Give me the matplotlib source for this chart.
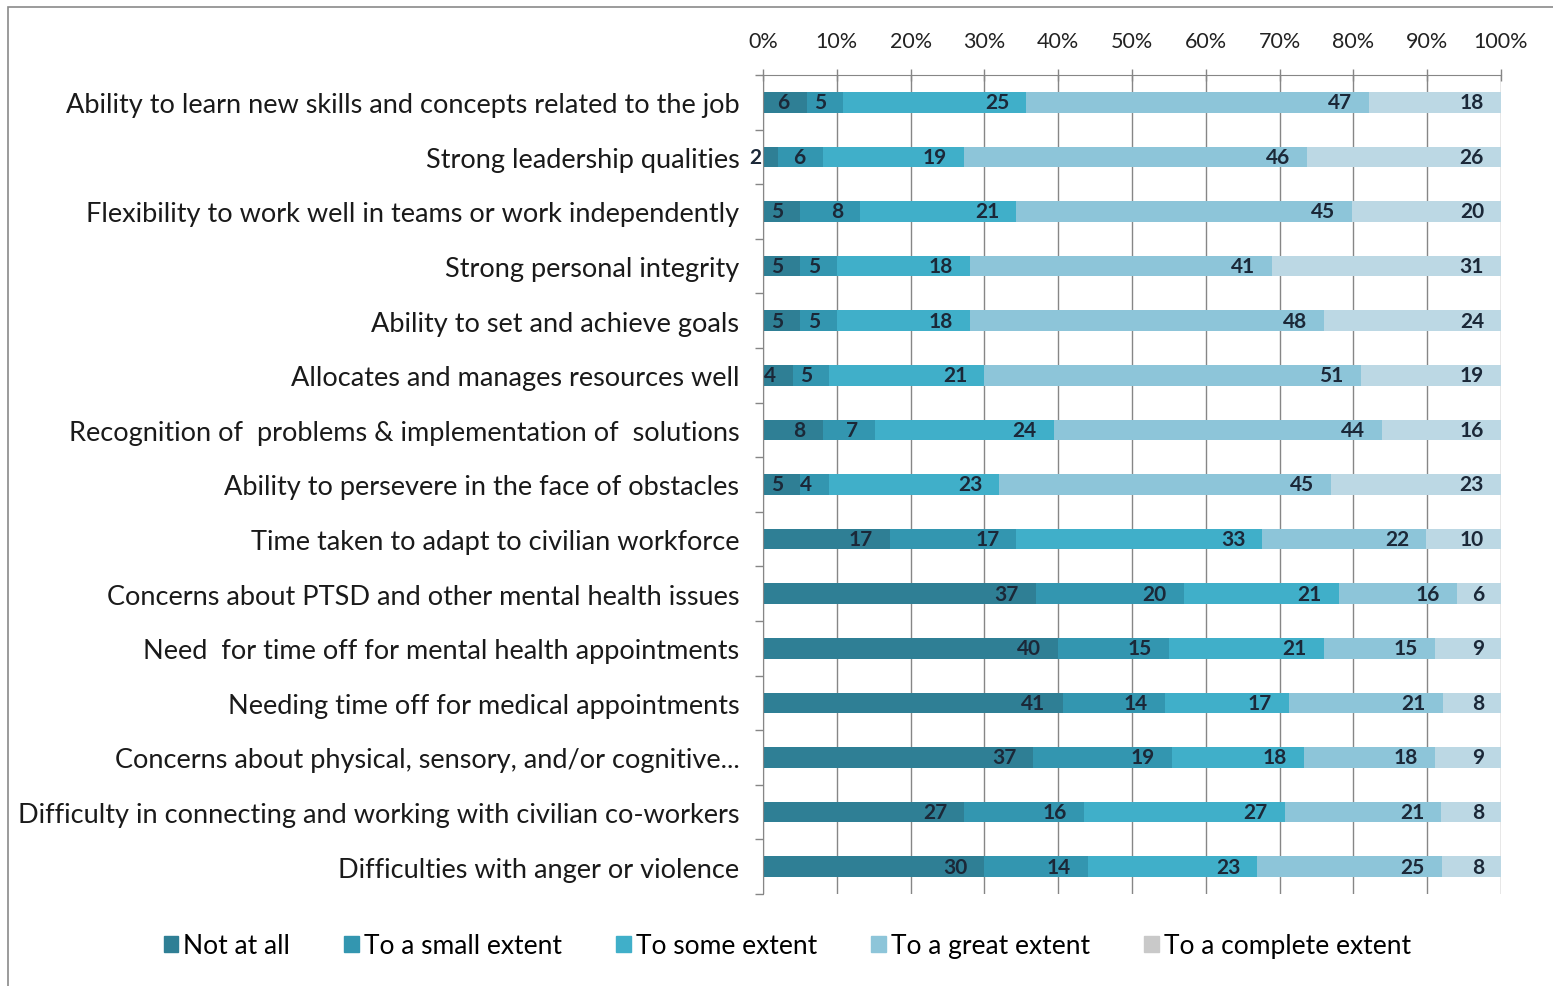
import numpy as np
import matplotlib.pyplot as plt
from matplotlib.patches import Rectangle

categories = [
    "Ability to learn new skills and concepts related to the job",
    "Strong leadership qualities",
    "Flexibility to work well in teams or work independently",
    "Strong personal integrity",
    "Ability to set and achieve goals",
    "Allocates and manages resources well",
    "Recognition of  problems & implementation of  solutions",
    "Ability to persevere in the face of obstacles",
    "Time taken to adapt to civilian workforce",
    "Concerns about PTSD and other mental health issues",
    "Need  for time off for mental health appointments",
    "Needing time off for medical appointments",
    "Concerns about physical, sensory, and/or cognitive...",
    "Difficulty in connecting and working with civilian co-workers",
    "Difficulties with anger or violence",
]

not_at_all = [6, 2, 5, 5, 5, 4, 8, 5, 17, 37, 40, 41, 37, 27, 30]
small_extent = [5, 6, 8, 5, 5, 5, 7, 4, 17, 20, 15, 14, 19, 16, 14]
some_extent = [25, 19, 21, 18, 18, 21, 24, 23, 33, 21, 21, 17, 18, 27, 23]
great_extent = [47, 46, 45, 41, 48, 51, 44, 45, 22, 16, 15, 21, 18, 21, 25]
complete_extent = [18, 26, 20, 31, 24, 19, 16, 23, 10, 6, 9, 8, 9, 8, 8]

series_names = ["Not at all", "To a small extent", "To some extent",
                "To a great extent", "To a complete extent"]
colors = ["#2F7F95", "#3396B0", "#40AFC9", "#8DC5D9", "#BCD8E4"]
legend_colors = ["#2F7F95", "#3396B0", "#40AFC9", "#8DC5D9", "#C9C9C9"]

plt.rcParams['font.family'] = ['Lato', 'DejaVu Sans']

data = np.array([not_at_all, small_extent, some_extent, great_extent, complete_extent], dtype=float)
pct = data / data.sum(axis=0) * 100

fig = plt.figure(figsize=(15.53, 9.87), dpi=100)
ax = fig.add_axes([763 / 1553, 1 - 895 / 987, (1501 - 763) / 1553, (895 - 76) / 987])

y = np.arange(len(categories))
left = np.zeros(len(categories))
for i, name in enumerate(series_names):
    ax.barh(y, pct[i], left=left, height=0.38, color=colors[i], label=name, zorder=2)
    ends = left + pct[i]
    for yy, xe, v in zip(y, ends, data[i]):
        ax.annotate(f"{int(v)}", xy=(xe, yy), xytext=(-17, 0), textcoords='offset pixels',
                    ha='right', va='center', fontsize=15, fontweight='bold',
                    color='#1B2838', zorder=3)
    left = ends

ax.set_xlim(0, 100)
ax.set_ylim(len(categories) - 0.5, -0.5)
ax.xaxis.tick_top()
ax.set_xticks(np.arange(0, 101, 10))
ax.set_xticklabels([f"{t}%" for t in range(0, 101, 10)], fontsize=15.5, color='#222222')
ax.tick_params(axis='x', direction='inout', length=9, width=1, color='#868686', pad=13)
ax.grid(axis='x', color='#868686', lw=1, zorder=1)

ax.set_yticks(y)
ax.set_yticklabels(categories, fontsize=19.5, color='#1a1a1a')
ax.tick_params(axis='y', which='major', length=0, pad=17)
ax.set_yticks(np.arange(-0.5, len(categories), 1), minor=True)
ax.tick_params(axis='y', which='minor', length=6, width=1, color='#868686', direction='out')

for s in ['right', 'bottom']:
    ax.spines[s].set_visible(False)
for s in ['top', 'left']:
    ax.spines[s].set_color('#868686')

handles = [Rectangle((0, 0), 1, 1, color=c) for c in legend_colors]
fig.legend(handles, series_names, loc='center', bbox_to_anchor=(0.507, 0.041), ncol=5,
           frameon=False, fontsize=19, handlelength=0.55, handleheight=0.55,
           handletextpad=0.2, columnspacing=2.05)

fig.patches.append(Rectangle((8 / 1553, -0.01), 1.1, 1 - 8 / 987 + 0.01, transform=fig.transFigure,
                             fill=False, edgecolor='#8a8a8a', lw=1.2))

fig.savefig("out.png", dpi=100)
